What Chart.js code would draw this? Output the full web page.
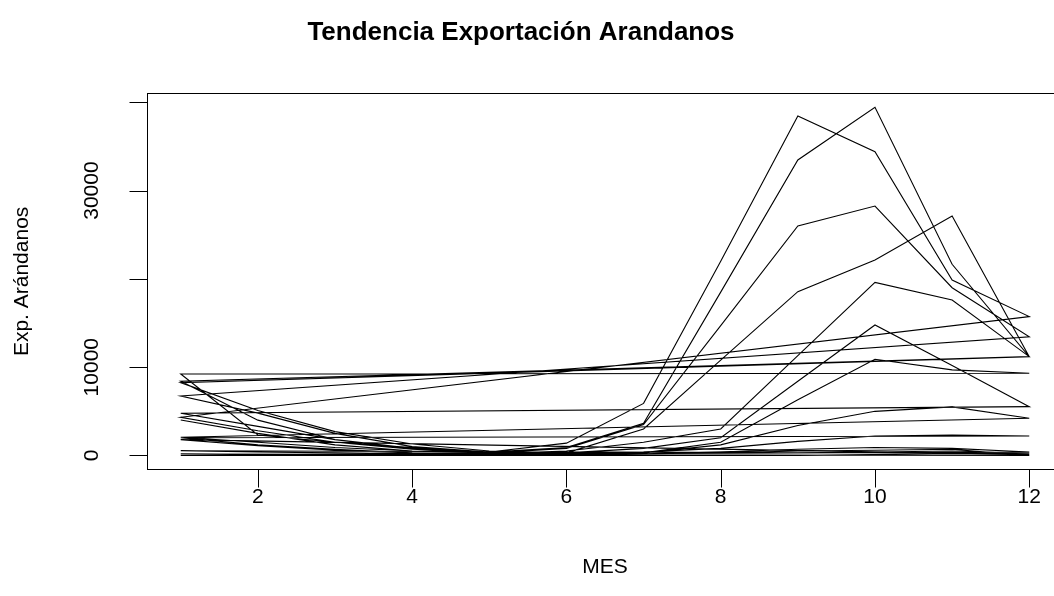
<!DOCTYPE html>
<html>
<head>
<meta charset="utf-8">
<script src="https://cdn.jsdelivr.net/npm/chart.js@4.4.1/dist/chart.umd.min.js"></script>
<style>
  html, body { margin: 0; padding: 0; background: #fff; overflow: hidden; }
  #wrap { width: 1080px; height: 596px; }
</style>
</head>
<body>
<div id="wrap"><canvas id="chart" width="1080" height="596"></canvas></div>
<script>
// months on the x axis
const meses = [1, 2, 3, 4, 5, 6, 7, 8, 9, 10, 11, 12];

// monthly exports per destination (plotted as one long line, like R's plot(type="l"))
const paisA = [4020, 2500, 1200, 500, 400, 1400, 5900, 22000, 38450, 34400, 19870, 15730];
const paisB = [4330, 2800, 1500, 700, 300, 800, 3500, 14700, 26000, 28250, 19000, 13450];
const paisC = [6740, 4800, 2500, 1000, 400, 900, 3650, 18500, 33470, 39430, 21650, 11190];
const paisD = [8250, 5100, 2700, 1300, 500, 300, 300, 1500, 6300, 10900, 9700, 9310];
const paisE = [9230, 2320, 1500, 900, 400, 300, 800, 2000, 8400, 14780, 10200, 5530];
const paisF = [4780, 3300, 1800, 800, 300, 200, 300, 1200, 3400, 5000, 5500, 4210];
const paisG = [2060, 1500, 900, 500, 300, 300, 400, 800, 1600, 2200, 2300, 2210];
const paisH = [2000, 1200, 700, 300, 200, 500, 1500, 3000, 11300, 19600, 17600, 11190];
const paisI = [8400, 4000, 1800, 700, 300, 200, 200, 300, 300, 400, 500, 250];
const paisJ = [540, 400, 300, 200, 100, 100, 200, 300, 500, 600, 700, 0];
const paisK = [170, 100, 100, 50, 50, 100, 200, 400, 700, 900, 800, 400];
const paisL = [0, 0, 0, 0, 0, 0, 0, 0, 0, 100, 200, 100];
const paisM = [1800, 1100, 600, 300, 200, 300, 3000, 10800, 18550, 22130, 27120, 11190];

const paises = [paisA, paisB, paisC, paisD, paisE, paisF, paisG, paisH, paisI, paisJ, paisK, paisL, paisM];

// axis ticks
const xTicks = [2, 4, 6, 8, 10, 12];
const yTicks = [0, 10000, 20000, 30000, 40000];
const yTickLabels = ['0', '10000', '', '30000', ''];

const puntos = [];
paises.forEach(p => meses.forEach((m, i) => puntos.push({ x: m, y: p[i] })));

const FONT = '"Liberation Sans", Arial, sans-serif';

// R style axes, box and titles
const rAxes = {
    id: 'rAxes',
    afterDraw(chart) {
        const ctx = chart.ctx;
        const a = chart.chartArea;
        const xs = chart.scales.x;
        const ys = chart.scales.y;
        ctx.save();
        ctx.strokeStyle = '#000';
        ctx.lineWidth = 1;
        ctx.strokeRect(Math.round(a.left) + 0.5, Math.round(a.top) + 0.5,
            Math.round(a.right - a.left), Math.round(a.bottom - a.top));

        ctx.fillStyle = '#000';
        ctx.font = '21px ' + FONT;

        // x axis
        ctx.beginPath();
        const x0 = Math.round(xs.getPixelForValue(xTicks[0])) + 0.5;
        const x1 = Math.round(xs.getPixelForValue(xTicks[xTicks.length - 1])) + 0.5;
        const yb = Math.round(a.bottom) + 0.5;
        ctx.moveTo(x0, yb); ctx.lineTo(x1, yb);
        xTicks.forEach(t => {
            const px = Math.round(xs.getPixelForValue(t)) + 0.5;
            ctx.moveTo(px, yb); ctx.lineTo(px, yb + 18);
        });
        ctx.stroke();
        ctx.textAlign = 'center';
        ctx.textBaseline = 'middle';
        xTicks.forEach(t => ctx.fillText(String(t), xs.getPixelForValue(t), 497));

        // y axis
        ctx.beginPath();
        const xl = Math.round(a.left) + 0.5;
        const yt0 = Math.round(ys.getPixelForValue(yTicks[0])) + 0.5;
        const yt1 = Math.round(ys.getPixelForValue(yTicks[yTicks.length - 1])) + 0.5;
        ctx.moveTo(xl, yt0); ctx.lineTo(xl, yt1);
        yTicks.forEach(t => {
            const py = Math.round(ys.getPixelForValue(t)) + 0.5;
            ctx.moveTo(xl, py); ctx.lineTo(xl - 18, py);
        });
        ctx.stroke();
        yTicks.forEach((t, i) => {
            if (!yTickLabels[i]) return;
            ctx.save();
            ctx.translate(92, ys.getPixelForValue(t));
            ctx.rotate(-Math.PI / 2);
            ctx.fillText(yTickLabels[i], 0, 0);
            ctx.restore();
        });

        // axis titles
        const cx = (a.left + a.right) / 2;
        const cy = (a.top + a.bottom) / 2;
        ctx.fillText('MES', cx, 567);
        ctx.save();
        ctx.translate(22, cy);
        ctx.rotate(-Math.PI / 2);
        ctx.fillText('Exp. Arándanos', 0, 0);
        ctx.restore();

        // main title
        ctx.font = 'bold 26px ' + FONT;
        ctx.fillText('Tendencia Exportación Arandanos', 521, 33);
        ctx.restore();
    }
};

new Chart(document.getElementById('chart'), {
    type: 'line',
    data: {
        datasets: [{
            label: 'Exp. Arándanos',
            data: puntos,
            borderColor: '#000000',
            borderWidth: 1.1,
            pointRadius: 0,
            tension: 0,
            fill: false
        }]
    },
    options: {
        responsive: false,
        animation: false,
        events: [],
        layout: {
            padding: { left: 146.8, right: 16.8, top: 93.4, bottom: 126.6 }
        },
        plugins: {
            legend: { display: false },
            tooltip: { enabled: false },
            title: { display: false }
        },
        scales: {
            x: { type: 'linear', min: 0.56, max: 12.44, display: false },
            y: { type: 'linear', min: -1577, max: 41007, display: false }
        }
    },
    plugins: [rAxes]
});
</script>
</body>
</html>
